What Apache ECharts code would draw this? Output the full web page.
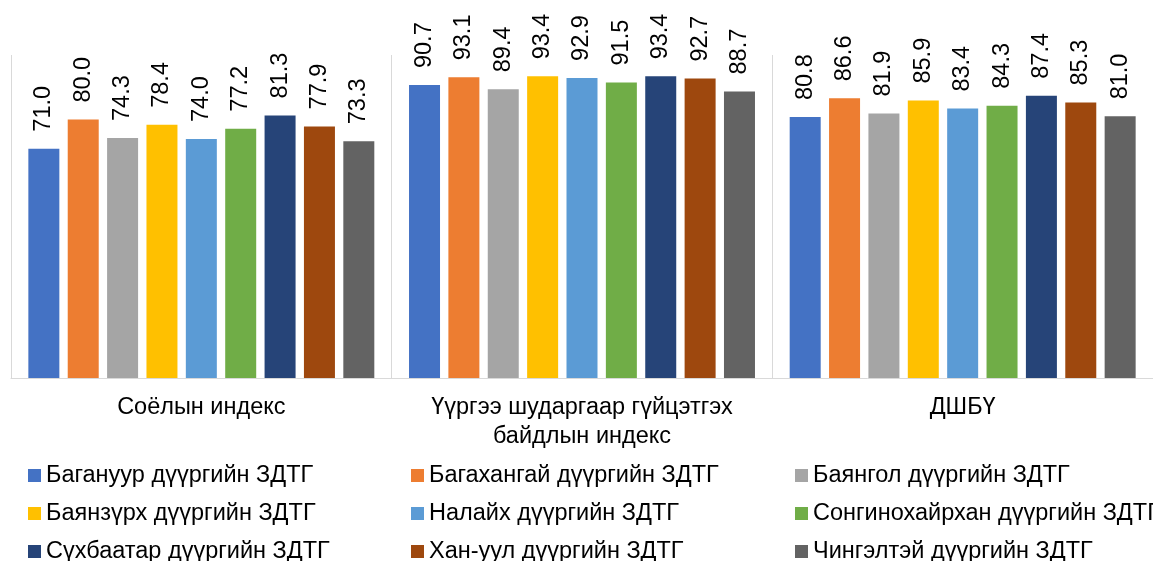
<!DOCTYPE html>
<html>
<head>
<meta charset="utf-8">
<script src="https://cdn.jsdelivr.net/npm/echarts@6/dist/echarts.min.js"></script>
<style>
html,body{margin:0;padding:0;background:#fff;}
#chart{width:1153px;height:561px;}
</style>
</head>
<body>
<div id="chart"></div>
<script>
const categories = ['Соёлын индекс', 'Үүргээ шударгаар гүйцэтгэх\nбайдлын индекс', 'ДШБҮ'];
const seriesNames = [
  'Багануур дүүргийн ЗДТГ',
  'Багахангай дүүргийн ЗДТГ',
  'Баянгол дүүргийн ЗДТГ',
  'Баянзүрх дүүргийн ЗДТГ',
  'Налайх дүүргийн ЗДТГ',
  'Сонгинохайрхан дүүргийн ЗДТГ',
  'Сүхбаатар дүүргийн ЗДТГ',
  'Хан-уул дүүргийн ЗДТГ',
  'Чингэлтэй дүүргийн ЗДТГ'
];
const baganuur = [71.0, 90.7, 80.8];
const bagakhangai = [80.0, 93.1, 86.6];
const bayangol = [74.3, 89.4, 81.9];
const bayanzurkh = [78.4, 93.4, 85.9];
const nalaikh = [74.0, 92.9, 83.4];
const songinokhairkhan = [77.2, 91.5, 84.3];
const sukhbaatar = [81.3, 93.4, 87.4];
const khanuul = [77.9, 92.7, 85.3];
const chingeltei = [73.3, 88.7, 81.0];
const seriesValues = [baganuur, bagakhangai, bayangol, bayanzurkh, nalaikh, songinokhairkhan, sukhbaatar, khanuul, chingeltei];
const colors = ['#4472C4', '#ED7D31', '#A5A5A5', '#FFC000', '#5B9BD5', '#70AD47', '#264478', '#9E480E', '#636363'];

const FONT = '"Liberation Sans", Arial, sans-serif';
const chart = echarts.init(document.getElementById('chart'), null, {renderer: 'canvas'});

const series = seriesNames.map((name, i) => ({
  name: name,
  type: 'bar',
  data: seriesValues[i],
  barWidth: 31,
  barGap: '27%',
  itemStyle: {color: colors[i]},
  label: {
    show: true,
    position: 'top',
    rotate: 90,
    align: 'left',
    verticalAlign: 'middle',
    distance: 17,
    color: '#000',
    fontFamily: FONT,
    fontSize: 23.5,
    formatter: p => p.value.toFixed(1)
  }
}));

function legendCol(items, left) {
  return {
    orient: 'vertical',
    left: left,
    top: 462.5,
    height: 130,
    padding: 0,
    itemWidth: 13,
    itemHeight: 13,
    itemGap: 12,
    icon: 'rect',
    selectedMode: false,
    data: items,
    textStyle: {fontFamily: FONT, fontSize: 23.5, color: '#000', lineHeight: 26}
  };
}

chart.setOption({
  animation: false,
  color: colors,
  grid: {left: 11, top: 55, width: 1146, bottom: 183, containLabel: false},
  legend: [
    legendCol([seriesNames[0], seriesNames[3], seriesNames[6]], 28),
    legendCol([seriesNames[1], seriesNames[4], seriesNames[7]], 411),
    legendCol([seriesNames[2], seriesNames[5], seriesNames[8]], 795)
  ],
  xAxis: {
    type: 'category',
    data: categories,
    axisLine: {show: true, lineStyle: {color: '#d9d9d9', width: 1}},
    axisTick: {show: false},
    splitLine: {show: true, lineStyle: {color: '#d9d9d9', width: 1}},
    axisLabel: {
      margin: 15,
      color: '#000',
      fontFamily: FONT,
      fontSize: 23.5,
      lineHeight: 29,
      interval: 0
    }
  },
  yAxis: {
    type: 'value',
    min: 0,
    max: 100,
    show: false,
    splitLine: {show: false}
  },
  series: series
});
</script>
</body>
</html>
